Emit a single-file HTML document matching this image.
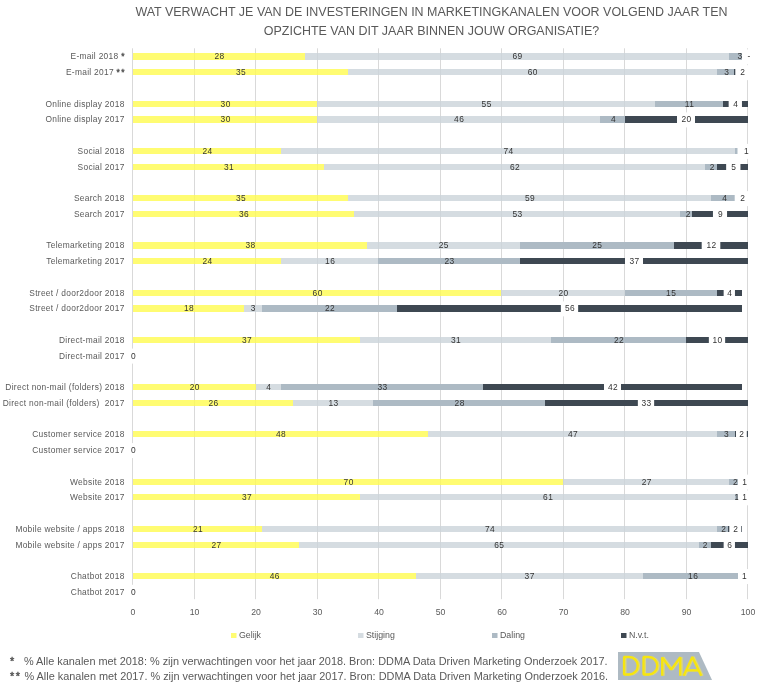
<!DOCTYPE html>
<html><head><meta charset="utf-8"><style>
html,body{margin:0;padding:0;background:#fff;}
body{width:759px;height:686px;overflow:hidden;position:relative;}
svg{position:absolute;left:0;top:0;will-change:transform;}
.t{font-family:"Liberation Sans",sans-serif;}
text{font-family:"Liberation Sans",sans-serif;}
.n{font-size:8.4px;letter-spacing:0.45px;fill:#333333;}
.c{font-size:8.4px;letter-spacing:0.3px;fill:#595959;}
.a{font-size:8.7px;fill:#595959;}
.l{font-size:8.8px;fill:#595959;}
.ti{font-size:12.47px;fill:#595959;}
.f{font-size:10.9px;fill:#595959;}
.st{stroke:#595959;stroke-width:0.45px;}
</style></head><body>
<svg width="759" height="686" viewBox="0 0 759 686">
<text x="431.5" y="16.2" text-anchor="middle" class="ti">WAT VERWACHT JE VAN DE INVESTERINGEN IN MARKETINGKANALEN VOOR VOLGEND JAAR TEN</text>
<text x="431.5" y="35" text-anchor="middle" class="ti">OPZICHTE VAN DIT JAAR BINNEN JOUW ORGANISATIE?</text>
<line x1="132.50" y1="48.3" x2="132.50" y2="599.2" stroke="#d9d9d9" stroke-width="1"/>
<line x1="194.50" y1="48.3" x2="194.50" y2="599.2" stroke="#d9d9d9" stroke-width="1"/>
<line x1="255.50" y1="48.3" x2="255.50" y2="599.2" stroke="#d9d9d9" stroke-width="1"/>
<line x1="317.50" y1="48.3" x2="317.50" y2="599.2" stroke="#d9d9d9" stroke-width="1"/>
<line x1="378.50" y1="48.3" x2="378.50" y2="599.2" stroke="#d9d9d9" stroke-width="1"/>
<line x1="440.50" y1="48.3" x2="440.50" y2="599.2" stroke="#d9d9d9" stroke-width="1"/>
<line x1="501.50" y1="48.3" x2="501.50" y2="599.2" stroke="#d9d9d9" stroke-width="1"/>
<line x1="563.50" y1="48.3" x2="563.50" y2="599.2" stroke="#d9d9d9" stroke-width="1"/>
<line x1="624.50" y1="48.3" x2="624.50" y2="599.2" stroke="#d9d9d9" stroke-width="1"/>
<line x1="686.50" y1="48.3" x2="686.50" y2="599.2" stroke="#d9d9d9" stroke-width="1"/>
<line x1="747.50" y1="48.3" x2="747.50" y2="599.2" stroke="#d9d9d9" stroke-width="1"/>
<rect x="133" y="53" width="172" height="7" fill="#fffb4f" fill-opacity="0.8"/>
<rect x="305" y="53" width="424" height="7" fill="#cad3da" fill-opacity="0.8"/>
<rect x="729" y="53" width="19" height="7" fill="#adbac4" fill-opacity="1"/>
<rect x="133" y="69" width="215" height="6" fill="#fffb4f" fill-opacity="0.8"/>
<rect x="348" y="69" width="369" height="6" fill="#cad3da" fill-opacity="0.8"/>
<rect x="717" y="69" width="17" height="6" fill="#adbac4" fill-opacity="1"/>
<rect x="734" y="69" width="14" height="6" fill="#3e4852" fill-opacity="1"/>
<rect x="133" y="101" width="184" height="6" fill="#fffb4f" fill-opacity="0.8"/>
<rect x="317" y="101" width="338" height="6" fill="#cad3da" fill-opacity="0.8"/>
<rect x="655" y="101" width="68" height="6" fill="#adbac4" fill-opacity="1"/>
<rect x="723" y="101" width="25" height="6" fill="#3e4852" fill-opacity="1"/>
<rect x="133" y="116" width="184" height="7" fill="#fffb4f" fill-opacity="0.8"/>
<rect x="317" y="116" width="283" height="7" fill="#cad3da" fill-opacity="0.8"/>
<rect x="600" y="116" width="25" height="7" fill="#adbac4" fill-opacity="1"/>
<rect x="625" y="116" width="123" height="7" fill="#3e4852" fill-opacity="1"/>
<rect x="133" y="148" width="148" height="6" fill="#fffb4f" fill-opacity="0.8"/>
<rect x="281" y="148" width="454" height="6" fill="#cad3da" fill-opacity="0.8"/>
<rect x="735" y="148" width="3" height="6" fill="#adbac4" fill-opacity="1"/>
<rect x="738" y="148" width="10" height="6" fill="#3e4852" fill-opacity="1"/>
<rect x="133" y="164" width="191" height="6" fill="#fffb4f" fill-opacity="0.8"/>
<rect x="324" y="164" width="381" height="6" fill="#cad3da" fill-opacity="0.8"/>
<rect x="705" y="164" width="12" height="6" fill="#adbac4" fill-opacity="1"/>
<rect x="717" y="164" width="31" height="6" fill="#3e4852" fill-opacity="1"/>
<rect x="133" y="195" width="215" height="6" fill="#fffb4f" fill-opacity="0.8"/>
<rect x="348" y="195" width="363" height="6" fill="#cad3da" fill-opacity="0.8"/>
<rect x="711" y="195" width="24" height="6" fill="#adbac4" fill-opacity="1"/>
<rect x="735" y="195" width="13" height="6" fill="#3e4852" fill-opacity="1"/>
<rect x="133" y="211" width="221" height="6" fill="#fffb4f" fill-opacity="0.8"/>
<rect x="354" y="211" width="326" height="6" fill="#cad3da" fill-opacity="0.8"/>
<rect x="680" y="211" width="12" height="6" fill="#adbac4" fill-opacity="1"/>
<rect x="692" y="211" width="56" height="6" fill="#3e4852" fill-opacity="1"/>
<rect x="133" y="242" width="234" height="7" fill="#fffb4f" fill-opacity="0.8"/>
<rect x="367" y="242" width="153" height="7" fill="#cad3da" fill-opacity="0.8"/>
<rect x="520" y="242" width="154" height="7" fill="#adbac4" fill-opacity="1"/>
<rect x="674" y="242" width="74" height="7" fill="#3e4852" fill-opacity="1"/>
<rect x="133" y="258" width="148" height="6" fill="#fffb4f" fill-opacity="0.8"/>
<rect x="281" y="258" width="97" height="6" fill="#cad3da" fill-opacity="0.8"/>
<rect x="378" y="258" width="142" height="6" fill="#adbac4" fill-opacity="1"/>
<rect x="520" y="258" width="228" height="6" fill="#3e4852" fill-opacity="1"/>
<rect x="133" y="290" width="368" height="6" fill="#fffb4f" fill-opacity="0.8"/>
<rect x="501" y="290" width="124" height="6" fill="#cad3da" fill-opacity="0.8"/>
<rect x="625" y="290" width="92" height="6" fill="#adbac4" fill-opacity="1"/>
<rect x="717" y="290" width="25" height="6" fill="#3e4852" fill-opacity="1"/>
<rect x="133" y="305" width="111" height="7" fill="#fffb4f" fill-opacity="0.8"/>
<rect x="244" y="305" width="18" height="7" fill="#cad3da" fill-opacity="0.8"/>
<rect x="262" y="305" width="135" height="7" fill="#adbac4" fill-opacity="1"/>
<rect x="397" y="305" width="345" height="7" fill="#3e4852" fill-opacity="1"/>
<rect x="133" y="337" width="227" height="6" fill="#fffb4f" fill-opacity="0.8"/>
<rect x="360" y="337" width="191" height="6" fill="#cad3da" fill-opacity="0.8"/>
<rect x="551" y="337" width="135" height="6" fill="#adbac4" fill-opacity="1"/>
<rect x="686" y="337" width="62" height="6" fill="#3e4852" fill-opacity="1"/>
<rect x="133" y="384" width="123" height="6" fill="#fffb4f" fill-opacity="0.8"/>
<rect x="256" y="384" width="25" height="6" fill="#cad3da" fill-opacity="0.8"/>
<rect x="281" y="384" width="202" height="6" fill="#adbac4" fill-opacity="1"/>
<rect x="483" y="384" width="259" height="6" fill="#3e4852" fill-opacity="1"/>
<rect x="133" y="400" width="160" height="6" fill="#fffb4f" fill-opacity="0.8"/>
<rect x="293" y="400" width="80" height="6" fill="#cad3da" fill-opacity="0.8"/>
<rect x="373" y="400" width="172" height="6" fill="#adbac4" fill-opacity="1"/>
<rect x="545" y="400" width="203" height="6" fill="#3e4852" fill-opacity="1"/>
<rect x="133" y="431" width="295" height="6" fill="#fffb4f" fill-opacity="0.8"/>
<rect x="428" y="431" width="289" height="6" fill="#cad3da" fill-opacity="0.8"/>
<rect x="717" y="431" width="18" height="6" fill="#adbac4" fill-opacity="1"/>
<rect x="735" y="431" width="13" height="6" fill="#3e4852" fill-opacity="1"/>
<rect x="133" y="479" width="430" height="6" fill="#fffb4f" fill-opacity="0.8"/>
<rect x="563" y="479" width="166" height="6" fill="#cad3da" fill-opacity="0.8"/>
<rect x="729" y="479" width="9" height="6" fill="#adbac4" fill-opacity="1"/>
<rect x="133" y="494" width="227" height="6" fill="#fffb4f" fill-opacity="0.8"/>
<rect x="360" y="494" width="375" height="6" fill="#cad3da" fill-opacity="0.8"/>
<rect x="735" y="494" width="3" height="6" fill="#adbac4" fill-opacity="1"/>
<rect x="133" y="526" width="129" height="6" fill="#fffb4f" fill-opacity="0.8"/>
<rect x="262" y="526" width="455" height="6" fill="#cad3da" fill-opacity="0.8"/>
<rect x="717" y="526" width="11" height="6" fill="#adbac4" fill-opacity="1"/>
<rect x="728" y="526" width="14" height="6" fill="#3e4852" fill-opacity="1"/>
<rect x="133" y="542" width="166" height="6" fill="#fffb4f" fill-opacity="0.8"/>
<rect x="299" y="542" width="400" height="6" fill="#cad3da" fill-opacity="0.8"/>
<rect x="699" y="542" width="12" height="6" fill="#adbac4" fill-opacity="1"/>
<rect x="711" y="542" width="37" height="6" fill="#3e4852" fill-opacity="1"/>
<rect x="133" y="573" width="283" height="6" fill="#fffb4f" fill-opacity="0.8"/>
<rect x="416" y="573" width="227" height="6" fill="#cad3da" fill-opacity="0.8"/>
<rect x="643" y="573" width="96" height="6" fill="#adbac4" fill-opacity="1"/>
<rect x="729" y="53" width="19" height="7" fill="#adbac4"/>
<rect x="717" y="69" width="17" height="6" fill="#adbac4"/>
<rect x="734" y="69" width="14" height="6" fill="#3e4852"/>
<rect x="655" y="101" width="68" height="6" fill="#adbac4"/>
<rect x="723" y="101" width="25" height="6" fill="#3e4852"/>
<rect x="600" y="116" width="25" height="7" fill="#adbac4"/>
<rect x="625" y="116" width="123" height="7" fill="#3e4852"/>
<rect x="735" y="148" width="3" height="6" fill="#adbac4"/>
<rect x="738" y="148" width="10" height="6" fill="#3e4852"/>
<rect x="705" y="164" width="12" height="6" fill="#adbac4"/>
<rect x="717" y="164" width="31" height="6" fill="#3e4852"/>
<rect x="711" y="195" width="24" height="6" fill="#adbac4"/>
<rect x="735" y="195" width="13" height="6" fill="#3e4852"/>
<rect x="680" y="211" width="12" height="6" fill="#adbac4"/>
<rect x="692" y="211" width="56" height="6" fill="#3e4852"/>
<rect x="520" y="242" width="154" height="7" fill="#adbac4"/>
<rect x="674" y="242" width="74" height="7" fill="#3e4852"/>
<rect x="378" y="258" width="142" height="6" fill="#adbac4"/>
<rect x="520" y="258" width="228" height="6" fill="#3e4852"/>
<rect x="625" y="290" width="92" height="6" fill="#adbac4"/>
<rect x="717" y="290" width="25" height="6" fill="#3e4852"/>
<rect x="262" y="305" width="135" height="7" fill="#adbac4"/>
<rect x="397" y="305" width="345" height="7" fill="#3e4852"/>
<rect x="551" y="337" width="135" height="6" fill="#adbac4"/>
<rect x="686" y="337" width="62" height="6" fill="#3e4852"/>
<rect x="281" y="384" width="202" height="6" fill="#adbac4"/>
<rect x="483" y="384" width="259" height="6" fill="#3e4852"/>
<rect x="373" y="400" width="172" height="6" fill="#adbac4"/>
<rect x="545" y="400" width="203" height="6" fill="#3e4852"/>
<rect x="717" y="431" width="18" height="6" fill="#adbac4"/>
<rect x="735" y="431" width="13" height="6" fill="#3e4852"/>
<rect x="729" y="479" width="9" height="6" fill="#adbac4"/>
<rect x="735" y="494" width="3" height="6" fill="#adbac4"/>
<rect x="717" y="526" width="11" height="6" fill="#adbac4"/>
<rect x="728" y="526" width="14" height="6" fill="#3e4852"/>
<rect x="699" y="542" width="12" height="6" fill="#adbac4"/>
<rect x="711" y="542" width="37" height="6" fill="#3e4852"/>
<rect x="643" y="573" width="96" height="6" fill="#adbac4"/>
<text x="219.50" y="59.39" text-anchor="middle" class="n">28</text>
<text x="517.50" y="59.39" text-anchor="middle" class="n">69</text>
<text x="740.10" y="59.39" text-anchor="middle" class="n">3</text>
<rect x="742.00" y="49.39" width="13.00" height="15" fill="#fff"/>
<text x="749.00" y="59.39" text-anchor="middle" class="n">-</text>
<text x="124.7" y="59.49" text-anchor="end" class="c" xml:space="preserve">E-mail 2018 <tspan class="st">*</tspan></text>
<text x="241.00" y="75.14" text-anchor="middle" class="n">35</text>
<text x="532.85" y="75.14" text-anchor="middle" class="n">60</text>
<text x="726.70" y="75.14" text-anchor="middle" class="n">3</text>
<rect x="735.30" y="65.14" width="14.00" height="15" fill="#fff"/>
<text x="742.80" y="75.14" text-anchor="middle" class="n">2</text>
<text x="124.7" y="75.24" text-anchor="end" class="c" xml:space="preserve">E-mail 2017 <tspan class="st" style="letter-spacing:1.3px">*</tspan><tspan class="st">*</tspan></text>
<text x="225.65" y="106.63" text-anchor="middle" class="n">30</text>
<text x="486.65" y="106.63" text-anchor="middle" class="n">55</text>
<text x="689.50" y="106.63" text-anchor="middle" class="n">11</text>
<rect x="728.65" y="96.63" width="13.30" height="15" fill="#fff"/>
<text x="735.80" y="106.63" text-anchor="middle" class="n">4</text>
<text x="124.7" y="106.73" text-anchor="end" class="c" xml:space="preserve">Online display 2018</text>
<text x="225.65" y="122.38" text-anchor="middle" class="n">30</text>
<text x="459.15" y="122.38" text-anchor="middle" class="n">46</text>
<text x="613.50" y="122.38" text-anchor="middle" class="n">4</text>
<rect x="677.00" y="112.38" width="18.00" height="15" fill="#fff"/>
<text x="686.50" y="122.38" text-anchor="middle" class="n">20</text>
<text x="124.7" y="122.48" text-anchor="end" class="c" xml:space="preserve">Online display 2017</text>
<text x="207.50" y="153.88" text-anchor="middle" class="n">24</text>
<text x="508.50" y="153.88" text-anchor="middle" class="n">74</text>
<rect x="737.50" y="143.88" width="17.00" height="15" fill="#fff"/>
<text x="746.50" y="153.88" text-anchor="middle" class="n">1</text>
<text x="124.7" y="153.98" text-anchor="end" class="c" xml:space="preserve">Social 2018</text>
<text x="229.00" y="169.63" text-anchor="middle" class="n">31</text>
<text x="515.00" y="169.63" text-anchor="middle" class="n">62</text>
<text x="712.20" y="169.63" text-anchor="middle" class="n">2</text>
<rect x="726.15" y="159.63" width="14.30" height="15" fill="#fff"/>
<text x="733.80" y="169.63" text-anchor="middle" class="n">5</text>
<text x="124.7" y="169.73" text-anchor="end" class="c" xml:space="preserve">Social 2017</text>
<text x="241.00" y="201.12" text-anchor="middle" class="n">35</text>
<text x="530.00" y="201.12" text-anchor="middle" class="n">59</text>
<text x="724.80" y="201.12" text-anchor="middle" class="n">4</text>
<rect x="734.70" y="191.12" width="15.00" height="15" fill="#fff"/>
<text x="742.70" y="201.12" text-anchor="middle" class="n">2</text>
<text x="124.7" y="201.22" text-anchor="end" class="c" xml:space="preserve">Search 2018</text>
<text x="244.00" y="216.87" text-anchor="middle" class="n">36</text>
<text x="517.50" y="216.87" text-anchor="middle" class="n">53</text>
<text x="688.20" y="216.87" text-anchor="middle" class="n">2</text>
<rect x="712.95" y="206.87" width="14.10" height="15" fill="#fff"/>
<text x="720.50" y="216.87" text-anchor="middle" class="n">9</text>
<text x="124.7" y="216.97" text-anchor="end" class="c" xml:space="preserve">Search 2017</text>
<text x="250.50" y="248.37" text-anchor="middle" class="n">38</text>
<text x="443.85" y="248.37" text-anchor="middle" class="n">25</text>
<text x="597.35" y="248.37" text-anchor="middle" class="n">25</text>
<rect x="701.70" y="238.37" width="18.60" height="15" fill="#fff"/>
<text x="711.50" y="248.37" text-anchor="middle" class="n">12</text>
<text x="124.7" y="248.47" text-anchor="end" class="c" xml:space="preserve">Telemarketing 2018</text>
<text x="207.50" y="264.11" text-anchor="middle" class="n">24</text>
<text x="330.15" y="264.11" text-anchor="middle" class="n">16</text>
<text x="449.50" y="264.11" text-anchor="middle" class="n">23</text>
<rect x="625.00" y="254.11" width="18.00" height="15" fill="#fff"/>
<text x="634.50" y="264.11" text-anchor="middle" class="n">37</text>
<text x="124.7" y="264.21" text-anchor="end" class="c" xml:space="preserve">Telemarketing 2017</text>
<text x="317.65" y="295.61" text-anchor="middle" class="n">60</text>
<text x="563.50" y="295.61" text-anchor="middle" class="n">20</text>
<text x="671.20" y="295.61" text-anchor="middle" class="n">15</text>
<rect x="723.65" y="285.61" width="11.30" height="15" fill="#fff"/>
<text x="729.80" y="295.61" text-anchor="middle" class="n">4</text>
<text x="124.7" y="295.71" text-anchor="end" class="c" xml:space="preserve">Street / door2door 2018</text>
<text x="189.00" y="311.36" text-anchor="middle" class="n">18</text>
<text x="253.20" y="311.36" text-anchor="middle" class="n">3</text>
<text x="330.00" y="311.36" text-anchor="middle" class="n">22</text>
<rect x="560.85" y="301.36" width="17.30" height="15" fill="#fff"/>
<text x="570.00" y="311.36" text-anchor="middle" class="n">56</text>
<text x="124.7" y="311.46" text-anchor="end" class="c" xml:space="preserve">Street / door2door 2017</text>
<text x="247.00" y="342.85" text-anchor="middle" class="n">37</text>
<text x="456.00" y="342.85" text-anchor="middle" class="n">31</text>
<text x="619.00" y="342.85" text-anchor="middle" class="n">22</text>
<rect x="708.85" y="332.85" width="16.30" height="15" fill="#fff"/>
<text x="717.50" y="342.85" text-anchor="middle" class="n">10</text>
<text x="124.7" y="342.95" text-anchor="end" class="c" xml:space="preserve">Direct-mail 2018</text>
<rect x="126.50" y="348.60" width="13.00" height="15" fill="#fff"/>
<text x="133.50" y="358.60" text-anchor="middle" class="n">0</text>
<text x="124.7" y="358.70" text-anchor="end" class="c" xml:space="preserve">Direct-mail 2017</text>
<text x="194.85" y="390.10" text-anchor="middle" class="n">20</text>
<text x="268.85" y="390.10" text-anchor="middle" class="n">4</text>
<text x="382.50" y="390.10" text-anchor="middle" class="n">33</text>
<rect x="604.00" y="380.10" width="17.00" height="15" fill="#fff"/>
<text x="613.00" y="390.10" text-anchor="middle" class="n">42</text>
<text x="124.7" y="390.20" text-anchor="end" class="c" xml:space="preserve">Direct non-mail (folders) 2018</text>
<text x="213.50" y="405.85" text-anchor="middle" class="n">26</text>
<text x="333.50" y="405.85" text-anchor="middle" class="n">13</text>
<text x="459.65" y="405.85" text-anchor="middle" class="n">28</text>
<rect x="637.85" y="395.85" width="16.30" height="15" fill="#fff"/>
<text x="646.50" y="405.85" text-anchor="middle" class="n">33</text>
<text x="124.7" y="405.95" text-anchor="end" class="c" xml:space="preserve">Direct non-mail (folders)  2017</text>
<text x="281.00" y="437.34" text-anchor="middle" class="n">48</text>
<text x="573.00" y="437.34" text-anchor="middle" class="n">47</text>
<text x="726.50" y="437.34" text-anchor="middle" class="n">3</text>
<rect x="736.00" y="427.34" width="10.80" height="15" fill="#fff"/>
<text x="741.90" y="437.34" text-anchor="middle" class="n">2</text>
<text x="124.7" y="437.44" text-anchor="end" class="c" xml:space="preserve">Customer service 2018</text>
<rect x="126.50" y="443.09" width="13.00" height="15" fill="#fff"/>
<text x="133.50" y="453.09" text-anchor="middle" class="n">0</text>
<text x="124.7" y="453.19" text-anchor="end" class="c" xml:space="preserve">Customer service 2017</text>
<text x="348.65" y="484.59" text-anchor="middle" class="n">70</text>
<text x="646.80" y="484.59" text-anchor="middle" class="n">27</text>
<text x="735.50" y="484.59" text-anchor="middle" class="n">2</text>
<rect x="738.30" y="474.59" width="12.00" height="15" fill="#fff"/>
<text x="744.80" y="484.59" text-anchor="middle" class="n">1</text>
<text x="124.7" y="484.69" text-anchor="end" class="c" xml:space="preserve">Website 2018</text>
<text x="247.00" y="500.33" text-anchor="middle" class="n">37</text>
<text x="548.15" y="500.33" text-anchor="middle" class="n">61</text>
<text x="737.00" y="500.33" text-anchor="middle" class="n">1</text>
<rect x="738.30" y="490.33" width="12.00" height="15" fill="#fff"/>
<text x="744.80" y="500.33" text-anchor="middle" class="n">1</text>
<text x="124.7" y="500.43" text-anchor="end" class="c" xml:space="preserve">Website 2017</text>
<text x="198.00" y="531.83" text-anchor="middle" class="n">21</text>
<text x="490.00" y="531.83" text-anchor="middle" class="n">74</text>
<text x="723.80" y="531.83" text-anchor="middle" class="n">2</text>
<rect x="729.30" y="521.83" width="12.00" height="15" fill="#fff"/>
<text x="735.80" y="531.83" text-anchor="middle" class="n">2</text>
<text x="124.7" y="531.93" text-anchor="end" class="c" xml:space="preserve">Mobile website / apps 2018</text>
<text x="216.50" y="547.58" text-anchor="middle" class="n">27</text>
<text x="499.35" y="547.58" text-anchor="middle" class="n">65</text>
<text x="705.20" y="547.58" text-anchor="middle" class="n">2</text>
<rect x="723.65" y="537.58" width="11.30" height="15" fill="#fff"/>
<text x="729.80" y="547.58" text-anchor="middle" class="n">6</text>
<text x="124.7" y="547.68" text-anchor="end" class="c" xml:space="preserve">Mobile website / apps 2017</text>
<text x="274.85" y="579.07" text-anchor="middle" class="n">46</text>
<text x="529.70" y="579.07" text-anchor="middle" class="n">37</text>
<text x="693.20" y="579.07" text-anchor="middle" class="n">16</text>
<rect x="738.00" y="569.07" width="12.00" height="15" fill="#fff"/>
<text x="744.50" y="579.07" text-anchor="middle" class="n">1</text>
<text x="124.7" y="579.17" text-anchor="end" class="c" xml:space="preserve">Chatbot 2018</text>
<rect x="126.50" y="584.82" width="13.00" height="15" fill="#fff"/>
<text x="133.50" y="594.82" text-anchor="middle" class="n">0</text>
<text x="124.7" y="594.92" text-anchor="end" class="c" xml:space="preserve">Chatbot 2017</text>
<text x="133.00" y="615.2" text-anchor="middle" class="a">0</text>
<text x="194.50" y="615.2" text-anchor="middle" class="a">10</text>
<text x="256.00" y="615.2" text-anchor="middle" class="a">20</text>
<text x="317.50" y="615.2" text-anchor="middle" class="a">30</text>
<text x="379.00" y="615.2" text-anchor="middle" class="a">40</text>
<text x="440.50" y="615.2" text-anchor="middle" class="a">50</text>
<text x="502.00" y="615.2" text-anchor="middle" class="a">60</text>
<text x="563.50" y="615.2" text-anchor="middle" class="a">70</text>
<text x="625.00" y="615.2" text-anchor="middle" class="a">80</text>
<text x="686.50" y="615.2" text-anchor="middle" class="a">90</text>
<text x="748.00" y="615.2" text-anchor="middle" class="a">100</text>
<rect x="231" y="633" width="5.5" height="5" fill="#fffc72"/>
<text x="239" y="637.8" class="l">Gelijk</text>
<rect x="358" y="633" width="5.5" height="5" fill="#d5dce1"/>
<text x="366" y="637.8" class="l">Stijging</text>
<rect x="492" y="633" width="5.5" height="5" fill="#adbac4"/>
<text x="500" y="637.8" class="l">Daling</text>
<rect x="621" y="633" width="5.5" height="5" fill="#3e4852"/>
<text x="629" y="637.8" class="l">N.v.t.</text>
<text x="10" y="664.7" class="f"><tspan class="st">*</tspan></text>
<text x="24" y="664.7" class="f">% Alle kanalen met 2018: % zijn verwachtingen voor het jaar 2018. Bron: DDMA Data Driven Marketing Onderzoek 2017.</text>
<text x="10" y="679.7" class="f"><tspan class="st" style="letter-spacing:1.6px">*</tspan><tspan class="st">*</tspan></text>
<text x="24.5" y="679.7" class="f">% Alle kanalen met 2017. % zijn verwachtingen voor het jaar 2017. Bron: DDMA Data Driven Marketing Onderzoek 2016.</text>
<polygon points="618,652 699,652 712,680 618,680" fill="#aebac3"/>
<g fill="none" stroke-linejoin="bevel" stroke-linecap="butt">
<g transform="translate(1.4,0)" stroke="#dcd77a" stroke-width="2.2">
<path d="M624 657 h5 a8.75 8.75 0 0 1 0 17.5 h-5 z"/>
<path d="M643.5 657 h5 a8.75 8.75 0 0 1 0 17.5 h-5 z"/>
<path d="M662.2 675.7 V657.3 L671.1 669.6 L680.2 657.3 V675.7"/>
<path d="M683.6 675.7 L692.3 656.9 L701.2 675.7 M686 670.3 H698.9"/>
</g>
<g stroke="#f6e50f" stroke-width="2.3">
<path d="M624 657 h5 a8.75 8.75 0 0 1 0 17.5 h-5 z"/>
<path d="M643.5 657 h5 a8.75 8.75 0 0 1 0 17.5 h-5 z"/>
<path d="M662.2 675.7 V657.3 L671.1 669.6 L680.2 657.3 V675.7"/>
<path d="M683.6 675.7 L692.3 656.9 L701.2 675.7 M686 670.3 H698.9"/>
</g></g>
</svg>
</body></html>
